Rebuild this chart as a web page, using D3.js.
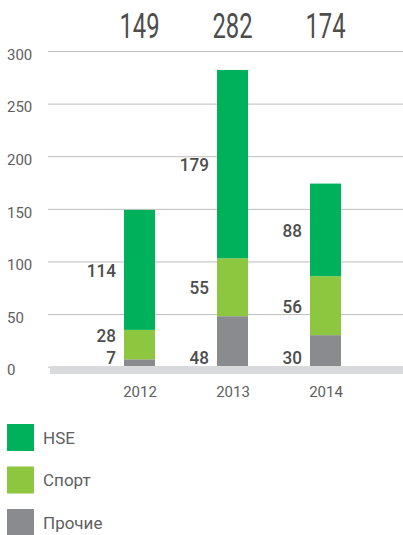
<!DOCTYPE html>
<html>
<head>
<meta charset="utf-8">
<script src="https://cdn.jsdelivr.net/npm/d3@7"></script>
<style>
  html, body { margin: 0; padding: 0; background: #fff; }
  svg { display: block; }
  text { font-family: Roboto, "Noto Sans", sans-serif; }
</style>
</head>
<body>
<script>
// Years and stacked series (bottom to top: Прочие, Спорт, HSE)
const years = ["2012", "2013", "2014"];
const other = [7, 48, 30];
const sport = [28, 55, 56];
const hse = [114, 179, 88];
const totals = [149, 282, 174];
const yTicks = [0, 50, 100, 150, 200, 250, 300];

const seriesNames = ["HSE", "Спорт", "Прочие"];
const seriesColors = { "HSE": "#00b15b", "Спорт": "#8dc63f", "Прочие": "#8a8b8e" };

const W = 403, H = 535;
const svg = d3.select("body").append("svg").attr("width", W).attr("height", H);

const y = d3.scaleLinear().domain([0, 300]).range([366.7, 51]);
const x = d3.scalePoint().domain(years).range([139.5, 325.5]);
const barW = 31;

// Gridlines + left value labels
const yAxis = d3.axisRight(y).tickValues(yTicks).tickSize(355).tickFormat(d3.format("d"));
const gy = svg.append("g").attr("transform", "translate(48,0)").call(yAxis);
gy.select(".domain").remove();
gy.selectAll(".tick line").attr("stroke", "#bdbdbd").attr("stroke-width", 1);
gy.selectAll(".tick text")
  .attr("x", -41).attr("dy", "0.55em")
  .attr("text-anchor", "start")
  .attr("fill", "#606060")
  .style("font-size", "15px");

// Stack the series
const rows = years.map((yr, i) => ({ year: yr, "Прочие": other[i], "Спорт": sport[i], "HSE": hse[i] }));
const stack = d3.stack().keys(["Прочие", "Спорт", "HSE"]);
const layers = stack(rows);

svg.append("g").selectAll("g").data(layers).join("g")
  .attr("fill", d => seriesColors[d.key])
  .selectAll("rect").data(d => d).join("rect")
  .attr("x", d => x(d.data.year) - barW / 2)
  .attr("width", barW)
  .attr("y", d => y(d[1]))
  .attr("height", d => y(d[0]) - y(d[1]));

// Baseline band
svg.append("rect").attr("x", 50).attr("y", 366).attr("width", W - 50).attr("height", 8).attr("fill", "#d9dadb");

// Year labels
const xAxis = d3.axisBottom(x).tickSize(0);
const gx = svg.append("g").attr("transform", "translate(0,380)").call(xAxis);
gx.select(".domain").remove();
gx.selectAll(".tick text").attr("fill", "#606060").style("font-size", "15px").attr("dy", "0.9em");

// Segment value labels, left of each bar
const segLabels = [];
layers.forEach(layer => {
  layer.forEach(d => {
    const val = d[1] - d[0];
    segLabels.push({ key: layer.key, year: d.data.year, val, mid: (y(d[0]) + y(d[1])) / 2 });
  });
});
years.forEach(yr => {
  let prev = null;
  ["Прочие", "Спорт", "HSE"].forEach(k => {
    const l = segLabels.find(s => s.year === yr && s.key === k);
    if (k === "Прочие") l.cy = 357;
    else l.cy = Math.min(l.mid, prev - 22);
    prev = l.cy;
  });
});
svg.append("g").selectAll("text").data(segLabels).join("text")
  .attr("transform", d => `translate(${x(d.year) - barW / 2 - 8},${d.cy}) scale(0.9,1)`)
  .attr("dy", "0.36em")
  .attr("text-anchor", "end")
  .attr("fill", "#4d4d4d")
  .style("font-size", "19px")
  .style("font-weight", 500)
  .text(d => d.val);

// Totals above the bars, condensed
svg.append("g").selectAll("text").data(years).join("text")
  .attr("transform", (d) => `translate(${x(d)},38) scale(0.68,1)`)
  .attr("text-anchor", "middle")
  .attr("fill", "#4d4d4d")
  .style("font-size", "35px")
  .style("font-weight", 400)
  .text((d, i) => totals[i]);

// Legend
const lg = svg.append("g").selectAll("g").data(seriesNames).join("g")
  .attr("transform", (d, i) => `translate(7,${424 + i * 42.5})`);
lg.append("rect").attr("width", 27).attr("height", 27).attr("fill", d => seriesColors[d]);
lg.append("text").attr("x", 36).attr("y", 13.5).attr("dy", "0.36em")
  .attr("fill", "#606060").style("font-size", "17px").text(d => d);
</script>
</body>
</html>
